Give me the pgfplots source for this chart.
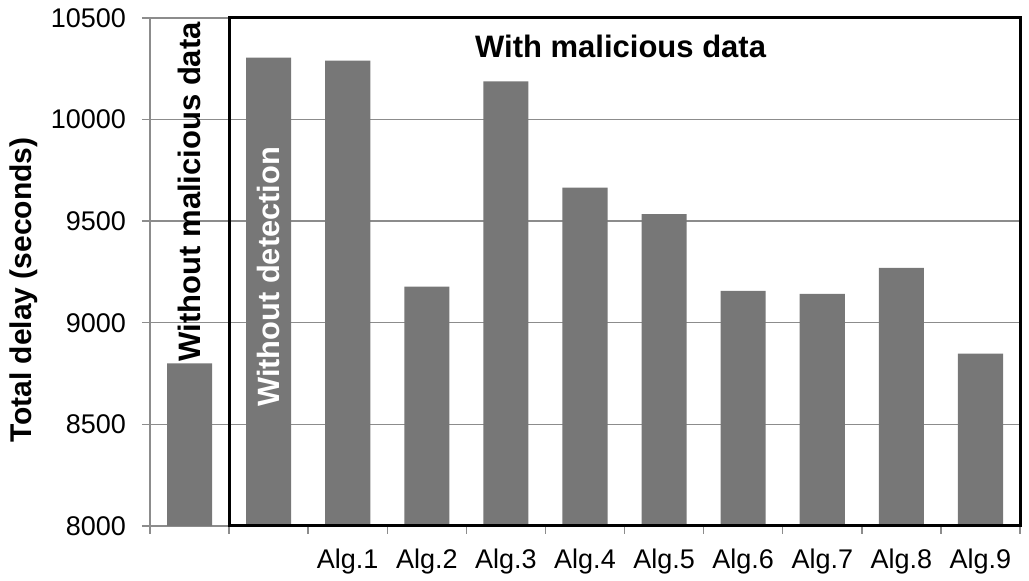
\documentclass[border=0pt]{standalone}
\usepackage{pgfplots}
\pgfplotsset{compat=1.18}
\usepackage{fontspec}
\setmainfont{Liberation Sans}
\definecolor{barc}{RGB}{119,119,119}
\definecolor{gridc}{RGB}{140,140,140}
\begin{document}
\begin{tikzpicture}
\path[use as bounding box] (-75pt,-27.5pt) rectangle (439.5pt,263pt);
\begin{axis}[
 at={(0,0)}, anchor=south west,
 scale only axis, width=435pt, height=254pt,
 clip=false,
 xmin=-0.5, xmax=10.5, ymin=8000, ymax=10500,
 axis x line*=bottom, axis y line*=left,
 axis line style={gridc, line width=0.7pt, -},
 xtick={-0.5,0.5,...,10.5}, xticklabels={},
 extra x ticks={2,3,4,5,6,7,8,9,10},
 extra x tick labels={Alg.1,Alg.2,Alg.3,Alg.4,Alg.5,Alg.6,Alg.7,Alg.8,Alg.9},
 extra x tick style={major tick length=0pt, xticklabel style={yshift=-8pt}},
 xticklabel style={font=\fontsize{13.5}{14}\selectfont},
 ytick={8000,8500,...,10500},
 scaled y ticks=false,
 yticklabel={\pgfmathprintnumber[fixed,precision=0,1000 sep={}]{\tick}},
 ymajorgrids, grid style={gridc, line width=0.7pt},
 tick align=outside, major tick length=4pt, tick style={gridc, line width=0.7pt},
 yticklabel style={font=\fontsize{13.5}{14}\selectfont, xshift=-4.5pt},
 /pgf/number format/assume math mode=true,
 ylabel={Total delay (seconds)},
 every axis y label/.style={at={(rel axis cs:0,0.465)}, xshift=-63pt, rotate=90, anchor=center, font=\bfseries\fontsize{15}{15}\selectfont},
 ybar, bar width=0.57,
]
\addplot[fill=barc, draw=none] coordinates {
(0,8800) (1,10305) (2,10290) (3,9178) (4,10188) (5,9665) (6,9535) (7,9157) (8,9142) (9,9270) (10,8848)};
\draw[black, line width=1.5pt] (axis cs:0.5,8000) rectangle (axis cs:10.5,10500);
\node[rotate=90, font=\bfseries\fontsize{15.5}{15.5}\selectfont] at (axis cs:0,9645) {Without malicious data};
\node[rotate=90, white, font=\bfseries\fontsize{15.4}{15.4}\selectfont] at (axis cs:1,9226) {Without detection};
\node[font=\bfseries\fontsize{15.5}{15.5}\selectfont] at (axis cs:5.45,10362) {With malicious data};
\end{axis}
\end{tikzpicture}
\end{document}
